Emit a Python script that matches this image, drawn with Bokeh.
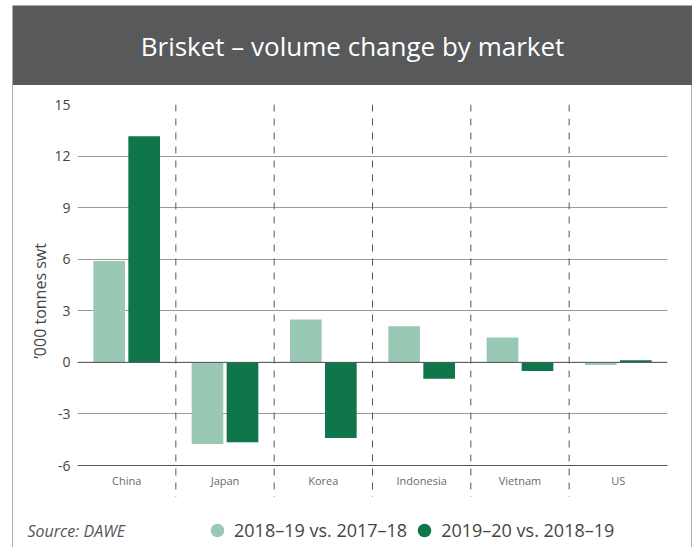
from bokeh.plotting import figure
from bokeh.models import (FactorRange, Range1d, FixedTicker, Span, Label,
                          Legend, LegendItem, ColumnDataSource, CustomJSTickFormatter)
from bokeh.layouts import column
from bokeh.transform import dodge
from bokeh.embed import file_html
from bokeh.resources import INLINE

# ---- data ----
categories = ["China", "Japan", "Korea", "Indonesia", "Vietnam", "US"]
vol_1819 = [5.9, -4.75, 2.5, 2.1, 1.45, -0.15]
vol_1920 = [13.15, -4.65, -4.4, -0.95, -0.5, 0.12]
series_names = ["2018\u201319 vs. 2017\u201318", "2019\u201320 vs. 2018\u201319"]
y_ticks = [-6, -3, 0, 3, 6, 9, 12, 15]
title_text = "Brisket \u2013 volume change by market"
source_text = "Source: DAWE"

LIGHT = "#99c9b5"
DARK = "#0f754a"
BAND = "#58595b"
FONT = "Open Sans"
BORDER = {"border-left": "1px solid #b0b0b0", "border-right": "1px solid #b0b0b0"}


def bare(fig):
    fig.axis.visible = False
    fig.grid.grid_line_color = None
    fig.outline_line_color = None
    return fig


# ---- title band ----
ta = bare(figure(width=680, height=80, output_backend="svg", toolbar_location=None,
                 x_range=Range1d(0, 680), y_range=Range1d(0, 80),
                 min_border=0, background_fill_color=BAND, border_fill_color=BAND))
ta.margin = (5, 0, 0, 12)
ta.add_layout(Label(x=340, y=40, text=title_text, text_align="center",
                    text_baseline="middle", text_color="white", text_font=FONT,
                    text_font_size="26px"))

# ---- chart ----
src = ColumnDataSource(dict(cat=categories, a=vol_1819, b=vol_1920))
p = figure(width=678, height=412, output_backend="svg", toolbar_location=None,
           x_range=FactorRange(*categories), y_range=Range1d(-7.86, 15),
           min_border_left=64, min_border_right=24, min_border_top=19,
           min_border_bottom=0)
p.outline_line_color = None

p.vbar(x=dodge("cat", -0.178, range=p.x_range), top="a", width=0.322, source=src,
       fill_color=LIGHT, line_color=None)
p.vbar(x=dodge("cat", 0.178, range=p.x_range), top="b", width=0.322, source=src,
       fill_color=DARK, line_color=None)

p.yaxis.ticker = FixedTicker(ticks=y_ticks)
p.yaxis.formatter = CustomJSTickFormatter(code="return String(tick)")
p.yaxis.axis_line_color = None
p.yaxis.major_tick_line_color = None
p.yaxis.minor_tick_line_color = None
p.yaxis.major_label_text_font = FONT
p.yaxis.major_label_text_font_size = "14px"
p.yaxis.major_label_text_color = "#444444"
p.yaxis.major_label_standoff = 1
p.yaxis.axis_label = "\u2019000 tonnes swt"
p.yaxis.axis_label_text_font = FONT
p.yaxis.axis_label_text_font_style = "normal"
p.yaxis.axis_label_text_font_size = "16px"
p.yaxis.axis_label_text_color = "#444444"
p.yaxis.axis_label_standoff = 0
p.ygrid.ticker = FixedTicker(ticks=y_ticks)
p.ygrid.grid_line_color = "#9a9a9a"
p.xgrid.grid_line_color = None

p.xaxis.fixed_location = y_ticks[0]
p.xaxis.axis_line_color = "#555555"
p.xaxis.major_tick_line_color = None
p.xaxis.minor_tick_line_color = None
p.xaxis.major_label_text_font = FONT
p.xaxis.major_label_text_font_size = "11px"
p.xaxis.major_label_text_color = "#6a6a6a"
p.xaxis.major_label_standoff = 1

p.add_layout(Span(location=0, dimension="width", line_color="#555555", line_width=1))
for i in range(1, len(categories)):
    p.add_layout(Span(location=i, dimension="height", line_color="#555555",
                      line_width=1, line_dash="7 7"))

# ---- footer ----
ft = bare(figure(width=678, height=50, output_backend="svg", toolbar_location=None,
                 x_range=Range1d(0, 678), y_range=Range1d(0, 50), min_border=0))
ft.add_layout(Label(x=14, y=17, text=source_text, text_align="left",
                    text_baseline="middle", text_color="#555555", text_font=FONT,
                    text_font_style="italic", text_font_size="16px"))
# legend swatches: renderers whose only point lies outside the visible range
r1 = ft.scatter(x=[-999], y=[-999], marker="circle", size=14, fill_color=LIGHT, line_color=None)
r2 = ft.scatter(x=[-999], y=[-999], marker="circle", size=14, fill_color=DARK, line_color=None)
legend = Legend(items=[LegendItem(label=series_names[0], renderers=[r1]),
                       LegendItem(label=series_names[1], renderers=[r2])],
                orientation="horizontal", location=(187, 0),
                padding=0, margin=0, spacing=0, glyph_width=34, glyph_height=34,
                label_standoff=0, label_height=18, label_text_font=FONT,
                label_text_font_size="18px", label_text_color="#444444",
                label_text_baseline="middle",
                border_line_color=None, background_fill_alpha=0)
ft.add_layout(legend)

box_chart = column(p, styles=BORDER)
box_chart.margin = (0, 0, 0, 12)
box_foot = column(ft, styles=BORDER)
box_foot.margin = (0, 0, 0, 12)
page = column(ta, box_chart, box_foot, spacing=0)

open("out.html", "w").write(file_html(page, INLINE))
